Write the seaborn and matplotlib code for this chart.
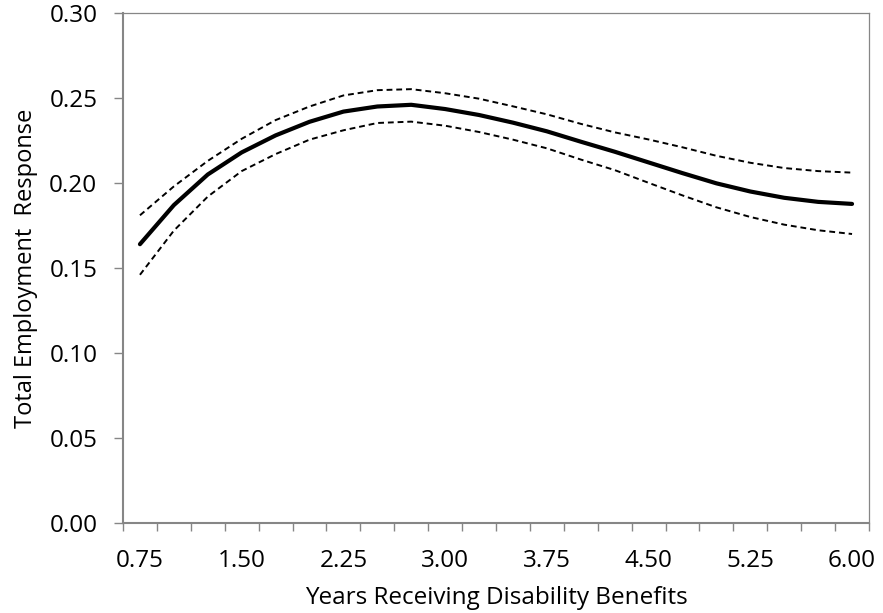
import matplotlib
matplotlib.use("Agg")
import matplotlib.pyplot as plt
import seaborn as sns
import pandas as pd
import numpy as np

years = [0.75, 1.00, 1.25, 1.50, 1.75, 2.00, 2.25, 2.50, 2.75, 3.00, 3.25,
         3.50, 3.75, 4.00, 4.25, 4.50, 4.75, 5.00, 5.25, 5.50, 5.75, 6.00]
estimate = [0.164, 0.187, 0.205, 0.218, 0.228, 0.236, 0.242, 0.245, 0.246, 0.2435, 0.240,
            0.2355, 0.2304, 0.2243, 0.2184, 0.2121, 0.2058, 0.1998, 0.1950, 0.1913, 0.1889, 0.1877]
upper = [0.181, 0.198, 0.213, 0.226, 0.237, 0.245, 0.2515, 0.2546, 0.2552, 0.2528, 0.2496,
         0.2451, 0.2404, 0.2348, 0.2298, 0.2256, 0.2210, 0.2160, 0.2119, 0.2088, 0.2070, 0.2061]
lower = [0.146, 0.172, 0.192, 0.207, 0.217, 0.2255, 0.231, 0.2353, 0.2361, 0.2337, 0.2300,
         0.2255, 0.2204, 0.2138, 0.2076, 0.2001, 0.1927, 0.1857, 0.1800, 0.1755, 0.1722, 0.1700]
xtick_labels = ["0.75", "1.50", "2.25", "3.00", "3.75", "4.50", "5.25", "6.00"]
ytick_labels = ["0.00", "0.05", "0.10", "0.15", "0.20", "0.25", "0.30"]

df = pd.DataFrame({"years": years, "estimate": estimate, "upper": upper, "lower": lower})

sns.set_theme(style="white")
plt.rcParams['font.family'] = ['Open Sans', 'DejaVu Sans']
plt.rcParams['text.color'] = 'black'
plt.rcParams['axes.labelcolor'] = 'black'
plt.rcParams['xtick.labelcolor'] = 'black'
plt.rcParams['ytick.labelcolor'] = 'black'

fig = plt.figure(figsize=(8.83, 6.13), dpi=100)
ax = fig.add_axes([123/883, 1 - 523/613, (869 - 123)/883, (523 - 13)/613])

sns.lineplot(data=df, x="years", y="estimate", ax=ax, color="black", linewidth=3,
             solid_capstyle="round")
sns.lineplot(data=df, x="years", y="upper", ax=ax, color="black", linewidth=1.4,
             linestyle=(0, (3, 2)))
sns.lineplot(data=df, x="years", y="lower", ax=ax, color="black", linewidth=1.4,
             linestyle=(0, (3, 2)))

ax.set_xlim(0.625, 6.125)
ax.set_ylim(0, 0.30)

# category boundary ticks (marks only)
bounds = [0.625 + 0.25 * i for i in range(23)]
ax.set_xticks(bounds)
ax.set_xticklabels([])
ax.tick_params(axis="x", which="major", direction="out", length=5.5, width=1, color="#868686",
               bottom=True)
# labels without marks
ax.set_xticks([float(t) for t in xtick_labels], minor=True)
ax.set_xticklabels(xtick_labels, minor=True)
ax.tick_params(axis="x", which="minor", length=0, pad=19, labelsize=17.5, labelcolor="black")

ax.set_yticks([float(t) for t in ytick_labels])
ax.set_yticklabels(ytick_labels)
ax.tick_params(axis="y", direction="out", length=6.5, width=1, color="#868686", left=True,
               labelsize=17.5, pad=12, labelcolor="black")

for side in ["left", "bottom"]:
    ax.spines[side].set_color("#868686")
    ax.spines[side].set_linewidth(1.5)
for side in ["top", "right"]:
    ax.spines[side].set_color("#868686")
    ax.spines[side].set_linewidth(0.9)

ax.set_xlabel("Years Receiving Disability Benefits", fontsize=17.5, labelpad=9, color="black")
ax.set_ylabel("Total Employment  Response", fontsize=17, labelpad=8, color="black")

fig.savefig("out.png", dpi=100)
